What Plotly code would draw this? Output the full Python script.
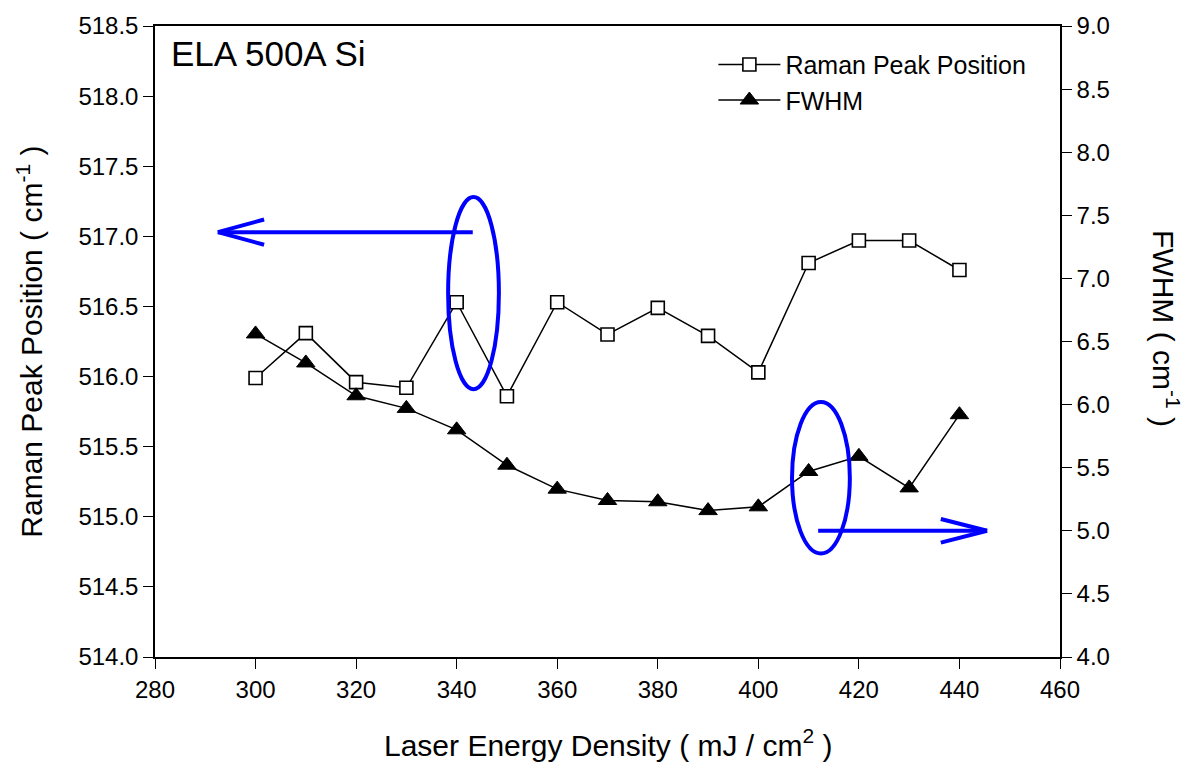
import plotly.graph_objects as go

# Data
energy = [300, 310, 320, 330, 340, 350, 360, 370, 380, 390, 400, 410, 420, 430, 440]
raman_peak = [515.99, 516.31, 515.96, 515.92, 516.53, 515.86, 516.53, 516.30, 516.49, 516.29,
              516.03, 516.81, 516.97, 516.97, 516.76]
fwhm = [6.56, 6.33, 6.07, 5.97, 5.80, 5.52, 5.33, 5.24, 5.23, 5.16, 5.19, 5.47, 5.59, 5.34, 5.92]

x_ticks = list(range(280, 461, 20))
y_left_ticks = [514.0 + 0.5 * i for i in range(10)]
y_right_ticks = [4.0 + 0.5 * i for i in range(11)]

FONT = "Liberation Sans, Arial, sans-serif"
BLUE = "#0000FF"

fig = go.Figure()
fig.add_trace(go.Scatter(
    x=energy, y=raman_peak, name="Raman Peak Position", mode="lines+markers",
    line=dict(color="black", width=1.5),
    marker=dict(symbol="square", size=13, color="white", line=dict(color="black", width=1.6)),
    yaxis="y"))
fig.add_trace(go.Scatter(
    x=energy, y=fwhm, name="FWHM", mode="lines+markers",
    line=dict(color="black", width=1.5),
    marker=dict(symbol="triangle-up", size=16, color="black", line=dict(color="black", width=1)),
    yaxis="y2"))

# Blue annotation marks
shapes = [
    dict(type="circle", xref="x", yref="y", x0=338.3, x1=348.4, y0=515.91, y1=517.28,
         line=dict(color=BLUE, width=4), layer="above"),
    dict(type="line", xref="x", yref="y", x0=343.2, x1=292.5, y0=517.03, y1=517.03,
         line=dict(color=BLUE, width=4)),
    dict(type="line", xref="x", yref="y", x0=292.5, x1=301.7, y0=517.03, y1=517.12,
         line=dict(color=BLUE, width=4)),
    dict(type="line", xref="x", yref="y", x0=292.5, x1=301.7, y0=517.03, y1=516.94,
         line=dict(color=BLUE, width=4)),
    dict(type="circle", xref="x", yref="y2", x0=406.7, x1=418.2, y0=4.82, y1=6.02,
         line=dict(color=BLUE, width=4), layer="above"),
    dict(type="line", xref="x", yref="y2", x0=411.9, x1=445.5, y0=5.0, y1=5.0,
         line=dict(color=BLUE, width=4)),
    dict(type="line", xref="x", yref="y2", x0=445.5, x1=436.3, y0=5.0, y1=5.094,
         line=dict(color=BLUE, width=4)),
    dict(type="line", xref="x", yref="y2", x0=445.5, x1=436.3, y0=5.0, y1=4.906,
         line=dict(color=BLUE, width=4)),
]

annotations = [
    dict(text="ELA 500A Si", xref="paper", yref="paper", x=0.015, y=0.99,
         xanchor="left", yanchor="top", showarrow=False, font=dict(size=35, color="black")),
    dict(text="Raman Peak Position ( cm<sup>-1</sup> )", xref="paper", yref="paper",
         x=-0.139, y=0.5, textangle=-90, showarrow=False, font=dict(size=30, color="black"),
         xanchor="center", yanchor="middle"),
    dict(text="FWHM ( cm<sup>-1</sup> )", xref="paper", yref="paper",
         x=1.117, y=0.52, textangle=90, showarrow=False, font=dict(size=30, color="black"),
         xanchor="center", yanchor="middle"),
    dict(text="Laser Energy Density ( mJ / cm<sup>2</sup> )", xref="paper", yref="paper",
         x=0.5, y=-0.137, showarrow=False, font=dict(size=30, color="black"),
         xanchor="center", yanchor="middle"),
]

fig.update_layout(
    width=1195, height=767,
    margin=dict(l=155, r=135, t=20, b=110),
    paper_bgcolor="white", plot_bgcolor="white",
    font=dict(family=FONT, color="black", size=24),
    showlegend=True,
    legend=dict(x=0.617, y=0.975, xanchor="left", yanchor="top",
                bgcolor="rgba(0,0,0,0)", font=dict(size=25, color="black"),
                itemwidth=62, tracegroupgap=0),
    xaxis=dict(range=[280, 460], tickvals=x_ticks, ticktext=[str(v) for v in x_ticks],
               showgrid=False, zeroline=False, showline=True, linecolor="black", linewidth=1.5,
               mirror=True, ticks="outside", ticklen=10, tickwidth=1.2, tickcolor="black",
               tickfont=dict(size=24)),
    yaxis=dict(range=[514.0, 518.5], tickvals=y_left_ticks,
               ticktext=[f"{v:.1f}" for v in y_left_ticks],
               showgrid=False, zeroline=False, showline=True, linecolor="black", linewidth=1.5,
               ticks="outside", ticklen=10, tickwidth=1.2, tickcolor="black",
               tickfont=dict(size=24)),
    yaxis2=dict(range=[4.0, 9.0], tickvals=y_right_ticks,
                ticktext=[f"{v:.1f}" for v in y_right_ticks],
                overlaying="y", side="right", anchor="x",
                showgrid=False, zeroline=False, showline=True, linecolor="black", linewidth=1.5,
                ticks="outside", ticklen=10, tickwidth=1.2, tickcolor="black",
                tickfont=dict(size=24)),
    shapes=shapes,
    annotations=annotations,
)

fig.write_html("out.html")
